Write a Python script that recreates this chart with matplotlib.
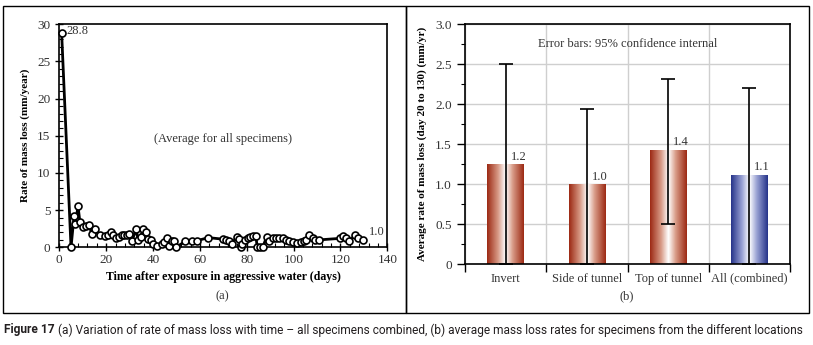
import matplotlib
matplotlib.use("Agg")
from matplotlib import pyplot as plt
from matplotlib.patches import Rectangle
from matplotlib.colors import LinearSegmentedColormap
from matplotlib.ticker import MultipleLocator, FixedLocator, FuncFormatter
import numpy as np

plt.rcParams['font.family'] = ['Liberation Serif', 'DejaVu Serif']
plt.rcParams['font.size'] = 8.5

# (a) rate of mass loss vs time, all specimens
days = [1, 5, 6.3, 6.8, 8.0, 8.8, 10, 11.4, 12.8, 13.8, 15.1, 17.4, 19.6, 20.9, 21.9, 23,
        24.2, 25.3, 26.6, 27.6, 28.7, 29.9, 31, 32.7, 33.7, 34.7, 35.8, 37, 37.8, 39,
        39.8, 41.5, 43.7, 44.7, 45.8, 46.9, 47.9, 48.9, 49.8, 53.8, 56.5, 58.9, 63.6,
        69.7, 71.1, 72.5, 73.7, 75.7, 76.8, 77.7, 77.8, 79.2, 80.5, 81.6, 82.8, 83.9,
        84.5, 85.6, 86.8, 88.5, 89.6, 91.0, 92.5, 93.9, 95.3, 96.7, 98.2, 99.9, 101.6,
        103, 104.4, 105.5, 106.7, 108.1, 109.2, 111, 119.8, 121, 122.3, 123.8, 126.3,
        127.6, 129.7]
rate = [28.8, 0, 4.2, 3.2, 5.5, 3.4, 2.7, 2.8, 3.0, 1.8, 2.4, 1.6, 1.5, 1.7, 2.0, 1.6,
        1.3, 1.4, 1.7, 1.6, 1.6, 1.8, 0.8, 2.4, 1.0, 1.4, 2.5, 2.1, 1.1, 1.0,
        0.4, 0.2, 0.5, 0.7, 1.2, 0.2, 0.8, 0.9, 0, 0.8, 0.9, 0.9, 1.3,
        1.1, 1.0, 0.9, 0.5, 1.4, 1.1, 0, 0.5, 1.0, 1.2, 1.4, 1.5, 1.5,
        0, 0, 0, 1.4, 0.9, 1.3, 1.3, 1.3, 1.2, 1.0, 0.8, 0.7, 0.6,
        0.7, 0.8, 1.0, 1.6, 1.3, 1.0, 1.0, 1.2, 1.5, 1.2, 0.9, 1.6,
        1.3, 1.0]

# (b) average rate of mass loss by location
locations = ['Invert', 'Side of tunnel', 'Top of tunnel', 'All (combined)']
avg_rate = [1.25, 1.0, 1.43, 1.12]
ci_low = [0.0, 0.0, 0.51, 0.0]
ci_high = [2.5, 1.94, 2.32, 2.2]
bar_labels = ['1.2', '1.0', '1.4', '1.1']
bar_dark = ['#9c2a14', '#9c2a14', '#9c2a14', '#26348a']
bar_mid = ['#d89a86', '#d89a86', '#d89a86', '#9aa2d4']

W, H = 813, 345
fig = plt.figure(figsize=(W / 100, H / 100), dpi=100)
txt = '#333333'

# ---------- panel (a)
ax1 = fig.add_axes([59.3 / W, 1 - 247.3 / H, 328 / W, 223 / H])
ax1.plot(days, rate, color='black', lw=2, marker='o', ms=5, mfc='white',
         mec='black', mew=1.2, clip_on=False, zorder=3)
ax1.set_xlim(0, 140)
ax1.set_ylim(0, 30)
ax1.xaxis.set_major_locator(MultipleLocator(20))
ax1.xaxis.set_minor_locator(MultipleLocator(4))
ax1.yaxis.set_major_locator(MultipleLocator(5))
ax1.yaxis.set_minor_locator(MultipleLocator(1))
ax1.tick_params(which='major', direction='inout', length=6, width=1, colors='black',
                labelcolor=txt, labelsize=9.5)
ax1.tick_params(which='minor', direction='in', length=3, width=0.8)
ax1.tick_params(axis='x', which='major', pad=2)
for s in ax1.spines.values():
    s.set_linewidth(1.2)
ax1.set_xlabel('Time after exposure in aggressive water (days)', fontweight='bold',
               fontsize=8.6, va='center')
ax1.xaxis.set_label_coords(0.5, -0.135)
ax1.set_ylabel('Rate of mass loss (mm/year)', fontweight='bold', fontsize=8, va='center')
ax1.yaxis.set_label_coords(-0.105, 0.5)
ax1.text(days[0] + 2, rate[0] + 0.3, '28.8', ha='left', va='center', color=txt, fontsize=9)
ax1.text(days[-1] + 2.5, 2.0, '1.0', ha='left', va='center', color=txt, fontsize=9)
ax1.text(70, 14.6, '(Average for all specimens)', ha='center', va='center', color=txt,
         fontsize=9)

# ---------- panel (b)
ax2 = fig.add_axes([465 / W, 1 - 264.3 / H, 325 / W, 240 / H])
x = np.arange(len(locations)) + 0.5
bars = ax2.bar(x, avg_rate, width=0.45, color='none', zorder=2)
for bar, dark, mid in zip(bars, bar_dark, bar_mid):
    cmap = LinearSegmentedColormap.from_list(
        'g', [(0, dark), (0.3, mid), (0.5, '#ffffff'), (0.7, mid), (1, dark)])
    grad = np.linspace(0, 1, 200).reshape(1, -1)
    im = ax2.imshow(grad, cmap=cmap, aspect='auto', zorder=2,
                    extent=[bar.get_x(), bar.get_x() + bar.get_width(), 0, bar.get_height()])
    im.set_clip_path(bar)
yerr = [np.array(avg_rate) - np.array(ci_low), np.array(ci_high) - np.array(avg_rate)]
ax2.errorbar(x, avg_rate, yerr=yerr, fmt='none', ecolor='black', elinewidth=1.2,
             capsize=5, capthick=1.2, zorder=4)
for xi, v, lab in zip(x, avg_rate, bar_labels):
    ax2.text(xi + 0.06, v + 0.02, lab, ha='left', va='bottom', color=txt, fontsize=9)
ax2.text(2.0, 2.75, 'Error bars: 95% confidence internal', ha='center', va='center',
         color=txt, fontsize=9)
ax2.set_xlim(0, 4)
ax2.set_ylim(0, 3)
ax2.xaxis.set_major_locator(FixedLocator([0, 1, 2, 3, 4]))
ax2.xaxis.set_major_formatter(FuncFormatter(lambda v, p: ''))
ax2.xaxis.set_minor_locator(FixedLocator(x))
ax2.set_xticklabels(locations, minor=True)
ax2.tick_params(axis='x', which='major', direction='out', length=6, width=1)
ax2.tick_params(axis='x', which='minor', length=0, pad=6, labelsize=9, labelcolor=txt)
ax2.yaxis.set_major_locator(MultipleLocator(0.5))
ax2.yaxis.set_minor_locator(MultipleLocator(0.25))
ax2.yaxis.set_major_formatter(FuncFormatter(lambda v, p: '0' if v == 0 else f'{v:.1f}'))
ax2.tick_params(axis='y', which='major', direction='out', length=6, width=1,
                labelsize=9.5, labelcolor=txt)
ax2.tick_params(axis='y', which='minor', direction='out', length=3, width=0.8)
ax2.grid(True, which='major', color='#cfcfcf', lw=1, zorder=0)
ax2.set_axisbelow(True)
for s in ax2.spines.values():
    s.set_linewidth(1.2)
ax2.set_ylabel('Average rate of mass loss (day 20 to 130) (mm/yr)', fontweight='bold',
               fontsize=8, va='center')
ax2.yaxis.set_label_coords(-0.132, 0.5)

# sub-panel labels and frames
fig.text(222 / W, 1 - 296 / H, '(a)', ha='center', va='center', fontsize=9, color=txt)
fig.text(627 / W, 1 - 296 / H, '(b)', ha='center', va='center', fontsize=9, color=txt)
for x0, x1 in [(3, 406), (406, 809)]:
    fig.add_artist(Rectangle((x0 / W, 1 - 313 / H), (x1 - x0) / W, 307 / H,
                             transform=fig.transFigure, fill=False, lw=1, ec='black'))

# caption, sized to span the frame width
cap_font = ['Roboto', 'DejaVu Sans']
cap_rest = ('(a) Variation of rate of mass loss with time \u2013 all specimens combined, '
            '(b) average mass loss rates for specimens from the different locations')
t1 = fig.text(4 / W, 1 - 330 / H, 'Figure 17', ha='left', va='center', fontsize=9,
              fontweight='bold', family=cap_font, color='#231f20')
t2 = fig.text(0, 1 - 330 / H, cap_rest, ha='left', va='center', fontsize=9,
              family=cap_font, color='#231f20')
fig.canvas.draw()
total = t1.get_window_extent().width + 3 + t2.get_window_extent().width
fs = 9 * 803 / total
t1.set_fontsize(fs)
t2.set_fontsize(fs)
fig.canvas.draw()
t2.set_x((t1.get_window_extent().x1 + 3) / W)

fig.savefig('out.png', dpi=100)
